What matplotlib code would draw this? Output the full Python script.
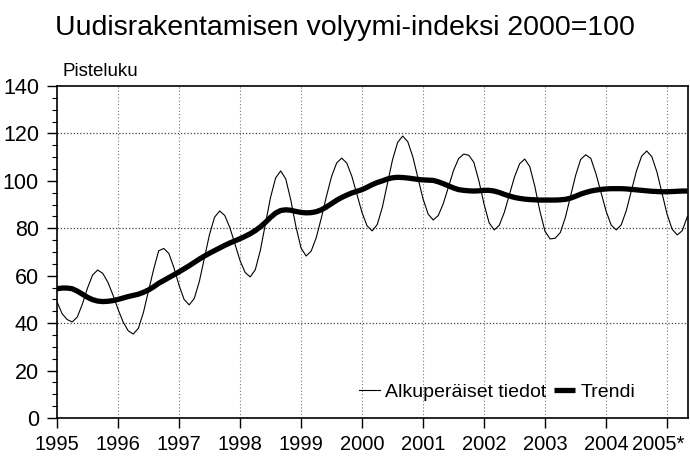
import matplotlib
matplotlib.use("Agg")
import matplotlib.pyplot as plt
from matplotlib.ticker import MultipleLocator
from matplotlib.transforms import ScaledTranslation
import numpy as np

plt.rcParams['font.family'] = ['Liberation Sans', 'DejaVu Sans']

title = "Uudisrakentamisen volyymi-indeksi 2000=100"
y_label = "Pisteluku"
series_names = ["Alkuperäiset tiedot", "Trendi"]
start_year = 1995
year_ticks = [1995, 1996, 1997, 1998, 1999, 2000, 2001, 2002, 2003, 2004, 2005]
year_labels = ["1995", "1996", "1997", "1998", "1999", "2000", "2001", "2002", "2003", "2004", "2005*"]

# monthly values, Jan 1995 - May 2005
original = [
    49.0, 44.0, 41.5, 40.5, 42.6, 48.1, 54.8, 60.3, 62.4, 61.0, 57.3, 51.9,   # 1995
    45.9, 40.5, 36.8, 35.4, 37.8, 44.5, 53.6, 62.6, 70.5, 71.5, 69.4, 63.4,   # 1996
    56.0, 50.0, 47.7, 50.4, 57.6, 67.5, 77.4, 84.7, 87.3, 85.4, 80.3, 73.4,   # 1997
    66.4, 61.4, 59.5, 62.5, 70.7, 81.9, 93.0, 101.2, 104.2, 100.8, 91.8, 80.7,  # 1998
    71.7, 68.3, 70.4, 76.1, 84.4, 93.5, 101.8, 107.5, 109.6, 107.5, 101.9, 94.3,  # 1999
    86.6, 81.0, 78.9, 81.6, 88.9, 98.9, 108.9, 116.2, 118.9, 116.5, 110.1, 101.2,  # 2000
    92.4, 86.0, 83.5, 85.4, 90.5, 97.4, 104.4, 109.4, 111.3, 110.8, 107.8, 99.9,  # 2001
    90.2, 82.3, 79.3, 81.3, 86.8, 94.3, 101.7, 107.2, 109.2, 106.0, 97.6, 87.1,  # 2002
    78.7, 75.5, 75.8, 78.2, 84.6, 93.4, 102.2, 109.0, 111.0, 109.5, 103.1, 95.2,  # 2003
    87.3, 81.4, 79.3, 81.5, 87.6, 96.0, 104.3, 110.4, 112.6, 110.2, 103.8, 94.9,  # 2004
    86.0, 79.6, 77.2, 79.0, 85.0,                                               # 2005
]
trend = [
    54.5, 54.8, 54.8, 54.5, 53.5, 52.2, 50.9, 49.9, 49.3, 49.1, 49.2, 49.5,
    50.0, 50.6, 51.2, 51.7, 52.2, 53.0, 54.0, 55.3, 56.8, 58.0, 59.2, 60.4,
    61.6, 62.9, 64.2, 65.6, 67.0, 68.3, 69.5, 70.6, 71.7, 72.8, 73.8, 74.7,
    75.6, 76.6, 77.7, 79.0, 80.6, 82.5, 84.6, 86.4, 87.5, 87.8, 87.6, 87.1,
    86.7, 86.5, 86.6, 87.0, 87.8, 89.0, 90.4, 91.8, 93.0, 94.0, 94.9, 95.6,
    96.3, 97.3, 98.4, 99.3, 100.0, 100.8, 101.3, 101.5, 101.4, 101.2, 100.9, 100.6,
    100.4, 100.3, 100.2, 99.6, 98.8, 97.9, 97.0, 96.3, 96.0, 95.8, 95.7, 95.8,
    96.0, 96.0, 95.7, 95.1, 94.3, 93.6, 93.0, 92.6, 92.3, 92.1, 92.0, 91.9,
    91.9, 91.9, 91.9, 92.0, 92.2, 92.7, 93.5, 94.4, 95.1, 95.7, 96.1, 96.4,
    96.6, 96.7, 96.7, 96.7, 96.6, 96.4, 96.2, 96.0, 95.8, 95.6, 95.5, 95.4,
    95.4, 95.5, 95.6, 95.7, 95.7,
]

t = start_year + np.arange(len(original)) / 12.0

fig = plt.figure(figsize=(6.9, 4.59), dpi=100)
ax = fig.add_axes([57/690, 1-418/459, (688-57)/690, (418-86)/459])

ax.plot(t, original, color='black', lw=0.8, label=series_names[0], zorder=3)
ax.plot(t, trend, color='black', lw=3.8, label=series_names[1], zorder=4, solid_capstyle='butt')

ax.set_xlim(1995, t[-1] + 0.01)
ax.set_ylim(0, 140)
ax.yaxis.set_major_locator(MultipleLocator(20))
ax.yaxis.set_minor_locator(MultipleLocator(5))
ax.set_xticks(year_ticks)
ax.set_xticklabels(year_labels)

for y in [40, 80, 120]:
    ax.axhline(y, color='#444444', lw=0.9, ls=(0, (1, 1.6)), zorder=1)
for x in year_ticks[1:]:
    ax.axvline(x, color='#777777', lw=0.8, ls=(0, (1, 2)), zorder=1)

ax.tick_params(axis='both', which='major', length=7, width=1, color='black')
ax.tick_params(axis='y', which='major', labelsize=15.5, pad=6)
ax.tick_params(axis='x', which='major', labelsize=14.5, pad=5)
ax.tick_params(axis='y', which='minor', length=3.5, width=0.8)
for s in ax.spines.values():
    s.set_linewidth(1.2)

last = ax.get_xticklabels()[-1]
last.set_transform(last.get_transform() + ScaledTranslation(-9/100, 0, fig.dpi_scale_trans))

fig.text(0.5, 1-28/459, title, ha='center', va='center', fontsize=20.5)
fig.text(62/690, 1-72/459, y_label, ha='left', va='center', fontsize=13.5)

leg = ax.legend(loc='center left', bbox_to_anchor=(349/690, 1-392/459),
                bbox_transform=fig.transFigure, ncol=2, frameon=False,
                fontsize=14, handlelength=1.1, handletextpad=0.25,
                columnspacing=0.4, borderpad=0)

fig.savefig("out.png", dpi=100, facecolor='white')
